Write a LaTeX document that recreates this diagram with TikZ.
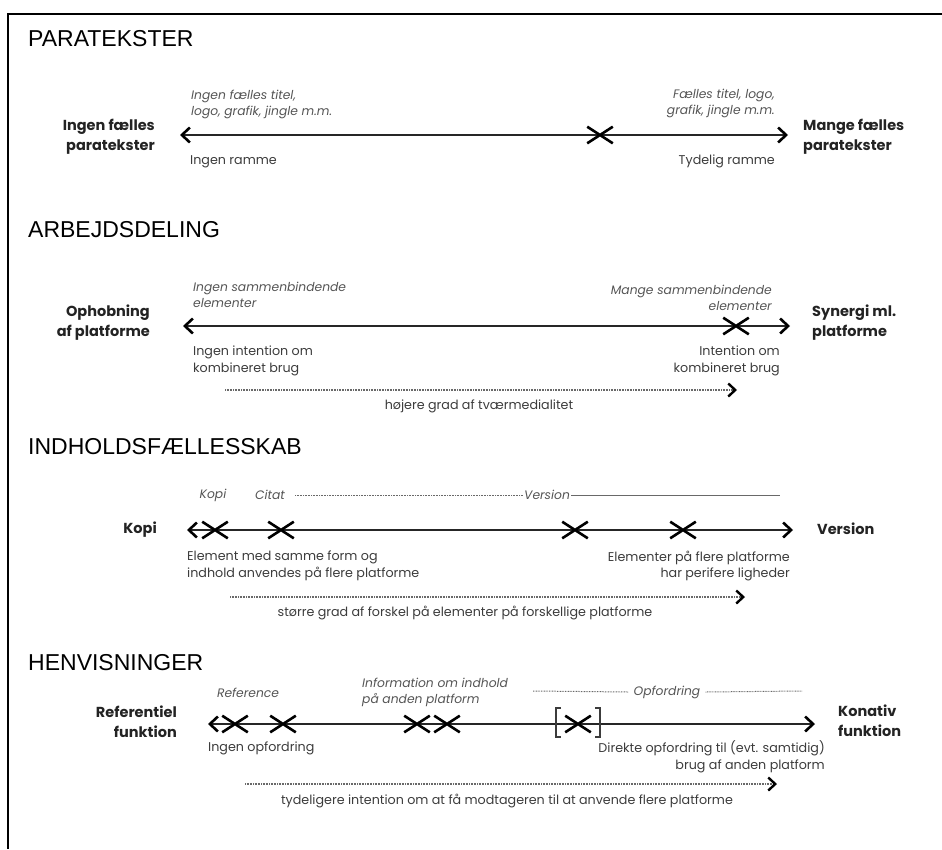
\documentclass[tikz,border=0pt]{standalone}
\usepackage{fontspec}
\setmainfont{Poppins}
\newfontfamily\headfont{Liberation Sans}
\usetikzlibrary{arrows.meta,shapes.misc}
\definecolor{inkgrey}{RGB}{35,35,35}
\definecolor{textgrey}{RGB}{60,60,60}
\definecolor{notegrey}{RGB}{85,85,85}
\definecolor{dotgrey}{RGB}{105,105,105}

\tikzset{
  heading/.style={anchor=west, inner sep=0, font=\headfont\fontsize{23}{26}\selectfont},
  pole/.style={inner sep=0, text=inkgrey, font=\bfseries\fontsize{14.5}{20}\selectfont},
  note/.style={inner sep=0, text=notegrey, font=\itshape\fontsize{12.3}{16}\selectfont},
  desc/.style={inner sep=0, text=textgrey, font=\fontsize{12.7}{16.5}\selectfont},
  markx/.style={cross out, draw=black, line width=2.6pt, inner sep=0,
    minimum width=23pt, minimum height=14pt},
  scaleaxis/.style={line width=2.2pt, draw=black!85,
    {Straight Barb[length=8pt,width=15pt,line width=2.6pt,color=black]}-{Straight Barb[length=8pt,width=15pt,line width=2.6pt,color=black]}},
  trend/.style={line width=1.1pt, draw=dotgrey, dash pattern=on 0.8pt off 0.8pt,
    -{Straight Barb[length=7pt,width=13pt,line width=2.4pt,color=black]}},
  guide/.style={line width=1pt, draw=dotgrey, dash pattern=on 0.8pt off 0.8pt},
  bracket/.style={line width=1.6pt, draw=textgrey}
}

\begin{document}
\begin{tikzpicture}[x=1pt,y=-1pt]
  \useasboundingbox (0,0) rectangle (942,849);
  % frame
  \draw[line width=2.4pt] (942,14) -- (8,14) -- (8,849);

  % PARATEKSTER
  \node[heading] (head1) at (28,39) {PARATEKSTER};
  \node[pole, anchor=east, align=right] (pole1l) at (155,137) {Ingen fælles\\paratekster};
  \node[pole, anchor=west, align=left] (pole1r) at (803,137) {Mange fælles\\paratekster};
  \node[note, anchor=west, align=left] (note1l) at (191,104) {Ingen fælles titel,\\logo, grafik, jingle m.m.};
  \node[note, anchor=east, align=right] (note1r) at (775,103) {Fælles titel, logo,\\grafik, jingle m.m.};
  \node[desc, anchor=west] (desc1l) at (190,162) {Ingen ramme};
  \node[desc, anchor=east] (desc1r) at (775,161) {Tydelig ramme};
  \coordinate (a1l) at (180,135);
  \coordinate (a1r) at (788,135);
  \draw[scaleaxis] (a1l) -- (a1r);
  \node[markx] (x1) at (600,135) {};

  % ARBEJDSDELING
  \node[heading] (head2) at (28,230) {ARBEJDSDELING};
  \node[pole, anchor=east, align=right] (pole2l) at (150,323) {Ophobning\\af platforme};
  \node[pole, anchor=west, align=left] (pole2r) at (812,323) {Synergi ml.\\platforme};
  \node[note, anchor=west, align=left] (note2l) at (193,295) {Ingen sammenbindende\\elementer};
  \node[note, anchor=east, align=right] (note2r) at (772,298) {Mange sammenbindende\\elementer};
  \node[desc, anchor=west, align=left] (desc2l) at (193,361) {Ingen intention om\\kombineret brug};
  \node[desc, anchor=east, align=right] (desc2r) at (780,361) {Intention om\\kombineret brug};
  \coordinate (a2l) at (183,326);
  \coordinate (a2r) at (790,326);
  \draw[scaleaxis] (a2l) -- (a2r);
  \node[markx] (x2) at (736,326) {};
  \coordinate (t2l) at (225,390);
  \coordinate (t2r) at (737,390);
  \draw[trend] (t2l) -- (t2r);
  \node[desc] (cap2) at (479,406) {højere grad af tværmedialitet};

  % INDHOLDSFÆLLESSKAB
  \node[heading] (head3) at (28,447) {INDHOLDSFÆLLESSKAB};
  \node[pole, anchor=east] (pole3l) at (157,530) {Kopi};
  \node[pole, anchor=west] (pole3r) at (817,529) {Version};
  \node[note] (kopi) at (213,495) {Kopi};
  \node[note] (citat) at (270,495) {Citat};
  \node[note, anchor=west] (version) at (524,495) {Version};
  \coordinate (v3end) at (780,495);
  \draw[guide] ([xshift=10pt]citat.east) -- ([xshift=-1pt]version.west);
  \draw[line width=1pt, draw=dotgrey] ([xshift=1pt]version.east) -- (v3end);
  \node[desc, anchor=west, align=left] (desc3l) at (187,566) {Element med samme form og\\indhold anvendes på flere platforme};
  \node[desc, anchor=east, align=right] (desc3r) at (790,566) {Elementer på flere platforme\\har perifere ligheder};
  \coordinate (a3l) at (187,530);
  \coordinate (a3r) at (793,530);
  \draw[scaleaxis] (a3l) -- (a3r);
  \node[markx] (x3a) at (215,530) {};
  \node[markx] (x3b) at (281,530) {};
  \node[markx] (x3c) at (575,530) {};
  \node[markx] (x3d) at (683,530) {};
  \coordinate (t3l) at (230,597);
  \coordinate (t3r) at (745,597);
  \draw[trend] (t3l) -- (t3r);
  \node[desc] (cap3) at (465,613) {større grad af forskel på elementer på forskellige platforme};

  % HENVISNINGER
  \node[heading] (head4) at (28,663) {HENVISNINGER};
  \node[pole, anchor=east, align=right] (pole4l) at (177,722) {Referentiel\\funktion};
  \node[pole, anchor=west, align=left] (pole4r) at (838,721) {Konativ\\funktion};
  \node[note] (reference) at (248,693) {Reference};
  \node[note, anchor=west, align=left] (info) at (362,692) {Information om indhold\\på anden platform};
  \node[note] (opfordring) at (667,692) {Opfordring};
  \coordinate (g4l) at (533,691);
  \coordinate (g4r) at (802,691);
  \draw[guide] (g4l) -- ([xshift=-5pt]opfordring.west);
  \draw[guide] ([xshift=5pt]opfordring.east) -- (g4r);
  \node[desc, anchor=west] (desc4l) at (208,748) {Ingen opfordring};
  \node[desc, anchor=east, align=right] (desc4r) at (825,757) {Direkte opfordring til (evt. samtidig)\\brug af anden platform};
  \coordinate (a4l) at (208,724);
  \coordinate (a4r) at (815,724);
  \draw[scaleaxis] (a4l) -- (a4r);
  \node[markx] (x4a) at (235,724) {};
  \node[markx] (x4b) at (283,724) {};
  \node[markx] (x4c) at (417,724) {};
  \node[markx] (x4d) at (447,724) {};
  \node[markx] (x4e) at (578,724) {};
  % brackets round the last mark
  \draw[bracket] (561,708) -- (556,708) -- (556,737) -- (561,737);
  \draw[bracket] (595,708) -- (600,708) -- (600,737) -- (595,737);
  \coordinate (t4l) at (245,784);
  \coordinate (t4r) at (777,784);
  \draw[trend] (t4l) -- (t4r);
  \node[desc] (cap4) at (507,801) {tydeligere intention om at få modtageren til at anvende flere platforme};
\end{tikzpicture}
\end{document}
